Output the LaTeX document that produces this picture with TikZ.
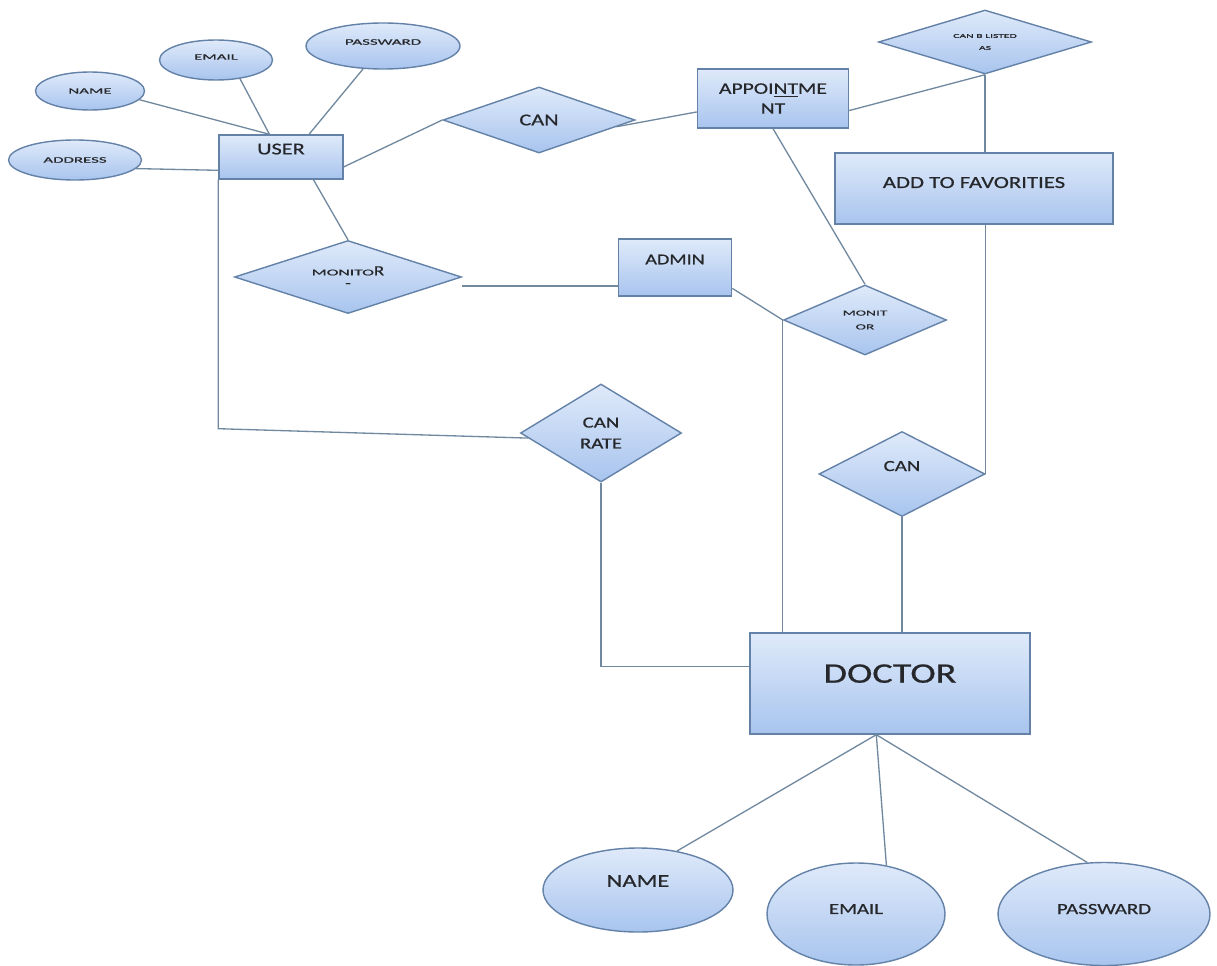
\documentclass[tikz,border=0pt]{standalone}
\usepackage{fontspec}
\setmainfont{Carlito}[FakeStretch=1.35, FakeBold=0.6]
\newfontfamily\widefont{Carlito}[FakeStretch=2, FakeBold=0.6]
\usepackage{tikz}
\usetikzlibrary{shapes.geometric}
\definecolor{fillTop}{HTML}{DFEAFA}
\definecolor{fillBot}{HTML}{A8C4EE}
\definecolor{edgeBlue}{HTML}{6482A8}
\definecolor{lineGray}{HTML}{71899F}
\definecolor{textGray}{HTML}{26272B}
\newlength{\pxu}
\setlength{\pxu}{0.02cm}
\newcommand{\txtsize}[2]{\fontsize{#1}{#2}\selectfont}
\tikzstyle{entity} = [rectangle, draw=edgeBlue, line width=0.8pt, top color=fillTop, bottom color=fillBot, inner sep=0pt, text=textGray]
\tikzstyle{relation} = [diamond, aspect=2, draw=edgeBlue, line width=0.8pt, top color=fillTop, bottom color=fillBot, inner sep=0pt, text=textGray]
\tikzstyle{attribute} = [ellipse, draw=edgeBlue, line width=0.8pt, top color=fillTop, bottom color=fillBot, inner sep=0pt, text=textGray]
\tikzstyle{link} = [draw=lineGray, line width=0.75pt]

\begin{document}
\begin{tikzpicture}[x=0.02cm, y=-0.02cm]
	\useasboundingbox[fill=white] (0, 0) rectangle (1217, 966);
	\node (uname) at (90, 91) [attribute, minimum width=109\pxu, minimum height=38\pxu, font=\widefont\txtsize{4.8}{6}] {NAME};
	\node (uemail) at (216, 60) [attribute, minimum width=113\pxu, minimum height=40\pxu, font=\widefont\txtsize{4.8}{6}, text depth=6\pxu] {EMAIL};
	\node (upass) at (383, 46) [attribute, minimum width=154\pxu, minimum height=46\pxu, font=\widefont\txtsize{4.8}{6}, text depth=8\pxu] {PASSWARD};
	\node (uaddr) at (75, 160) [attribute, minimum width=133\pxu, minimum height=40\pxu, font=\widefont\txtsize{4.8}{6}] {ADDRESS};
	\node (user) at (281, 157) [entity, minimum width=124\pxu, minimum height=44\pxu, font=\txtsize{9.4}{11}, text depth=16\pxu] {USER};
	\node (can1) at (539, 120) [relation, minimum width=192\pxu, minimum height=66\pxu, font=\txtsize{9.4}{11}] {CAN};
	\node (appt) at (773, 98.5) [entity, minimum width=151\pxu, minimum height=59\pxu, align=center, font=\txtsize{9.1}{11.3}] {APPOI\underline{NT}ME\\NT};
	\node (listed) at (985, 42) [relation, minimum width=213\pxu, minimum height=64\pxu, align=center, font=\widefont\txtsize{3.3}{6.8}] {CAN B LISTED\\AS};
	\node (fav) at (974, 188.5) [entity, minimum width=278\pxu, minimum height=71\pxu, font=\txtsize{9.6}{11}, text depth=12\pxu] {ADD TO FAVORITIES};
	\node (monitor1) at (348, 277) [relation, minimum width=227\pxu, minimum height=73\pxu, align=center, font=\txtsize{8}{7}] {{\widefont\txtsize{5}{7}MONITO}R\\-};
	\node (admin) at (675, 267.5) [entity, minimum width=113\pxu, minimum height=57\pxu, font=\txtsize{8.5}{10}, text depth=16\pxu] {ADMIN};
	\node (monitor2) at (865, 320) [relation, minimum width=163\pxu, minimum height=70\pxu, align=center, font=\widefont\txtsize{4.4}{7.9}] {MONIT\\OR};
	\node (rate) at (601, 433) [relation, minimum width=161\pxu, minimum height=98\pxu, align=center, font=\txtsize{8.8}{11.9}] {CAN\\RATE};
	\node (can2) at (902, 474) [relation, minimum width=166\pxu, minimum height=85\pxu, font=\txtsize{8.8}{10}, text depth=16\pxu] {CAN};
	\node (doctor) at (890, 683.5) [entity, minimum width=280\pxu, minimum height=101\pxu, font=\txtsize{16.1}{18}, text depth=20\pxu] {DOCTOR};
	\node (dname) at (638, 890) [attribute, minimum width=190\pxu, minimum height=84\pxu, font=\txtsize{10.3}{12}, text depth=18\pxu] {NAME};
	\node (demail) at (856, 914) [attribute, minimum width=178\pxu, minimum height=102\pxu, font=\txtsize{8.8}{10}, text depth=10\pxu] {EMAIL};
	\node (dpass) at (1104, 914) [attribute, minimum width=212\pxu, minimum height=103\pxu, font=\txtsize{8.8}{10}, text depth=10\pxu] {PASSWARD};
	\draw [link] (uname.-10) -- (user.117);
	\draw [link] (uemail.-38) -- (user.117);
	\draw [link] (upass.-131) -- (user.39);
	\draw [link] (uaddr.-8) -- (user.-168);
	\draw [link] (user.-9) -- (can1.west);
	\draw [link] (can1.-5) -- (appt.190);
	\draw [link] (appt.-9) -- (listed.south);
	\draw [link] (listed.south) -- (listed.south |- fav.north);
	\draw [link] (can2.east |- fav.south) -- (can2.east);
	\draw [link] (can2.south) -- (can2.south |- doctor.north);
	\draw [link] (appt.south) -- (monitor2.north);
	\draw [link] (admin.-20) -- (monitor2.west);
	\draw [link] (admin.-162) -- (admin.-162 -| monitor1.east);
	\draw [link] (user.-35) -- (monitor1.north);
	\draw [link] (user.south west) -- ++(0, 249) -- (rate.184);
	\draw [link] (rate.south) |- (doctor.173);
	\draw [link] (monitor2.west) -- (monitor2.west |- doctor.north);
	\draw [link] (doctor.-105) -- (dname.45);
	\draw [link] (doctor.-105) -- (demail.58);
	\draw [link] (doctor.-105) -- (dpass.108);
\end{tikzpicture}
\end{document}
